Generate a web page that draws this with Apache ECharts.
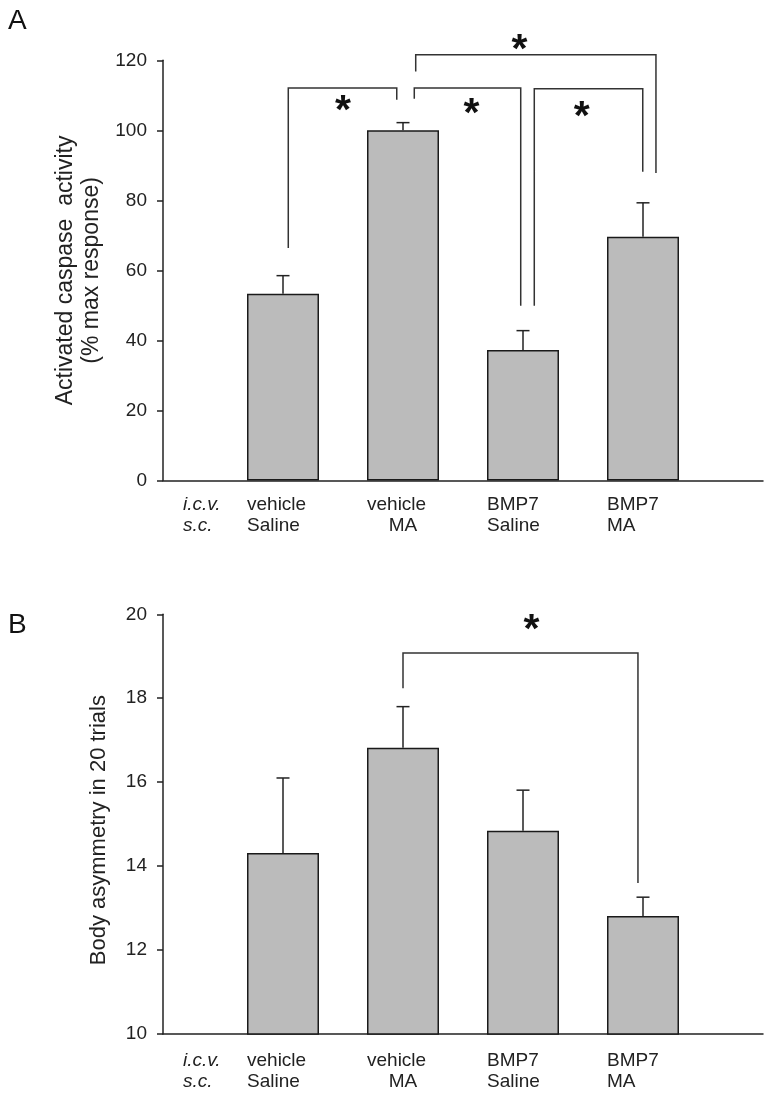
<!DOCTYPE html>
<html><head><meta charset="utf-8">
<script src="https://cdn.jsdelivr.net/npm/echarts@6/dist/echarts.min.js"></script>
<style>html,body{margin:0;padding:0;background:#fff}#c{width:780px;height:1102px}</style>
</head><body><div id="c"></div>
<script>
// ---- data ----
const groupPositions = [1, 2, 3, 4];
const icvLabels = ['vehicle', 'vehicle', 'BMP7', 'BMP7'];
const scLabels = ['Saline', 'MA', 'Saline', 'MA'];
const rowHeaders = ['i.c.v.', 's.c.'];
const panelLetters = ['A', 'B'];

const caspaseMean = [53.3, 100.0, 37.3, 69.6];
const caspaseSem = [5.2, 2.2, 5.5, 9.7];
const asymMean = [14.31, 16.82, 14.84, 12.81];
const asymSem = [1.79, 0.98, 0.97, 0.45];

const yTicksA = [0, 20, 40, 60, 80, 100, 120];
const yTicksB = [10, 12, 14, 16, 18, 20];

const nameA = 'Activated caspase  activity\n(% max response)';
const nameB = 'Body asymmetry in 20 trials';

// significance brackets: [xLeft, xRight, yTop, yLeftEnd, yRightEnd]
const bracketsA = [
  [1.044, 1.948, 112.1, 66.4, 108.7],
  [2.106, 4.108, 121.6, 116.8, 87.8],
  [2.094, 2.981, 112.1, 109.0, 49.9],
  [3.094, 3.998, 111.9, 49.9, 88.2]
];
const starsA = [[1.5, 107.9], [2.97, 125.4], [2.57, 107.0], [3.49, 106.3]];
const bracketsB = [[2.0, 3.958, 19.08, 18.24, 13.60]];
const starsB = [[3.07, 19.82]];

// ---- styling ----
const FONT = "'Liberation Sans', Arial, Helvetica, sans-serif";
const INK = '#222';

function xLabel(v) {
  const i = Math.round(v);
  if (i === 0) return '{sp| }{it|' + rowHeaders[0] + '}\n{sp| }{it|' + rowHeaders[1] + '}';
  if (i >= 1 && i <= 4) {
    const k = i - 1;
    const second = (k === 1 ? '{c|' : '{l|') + scLabels[k] + '}';
    return '{l|' + icvLabels[k] + '}\n' + second;
  }
  return '';
}
const richX = {
  l: { width: 72, align: 'left', fontSize: 19, fontFamily: FONT, color: INK, lineHeight: 21 },
  c: { width: 72, align: 'center', fontSize: 19, fontFamily: FONT, color: INK, lineHeight: 21 },
  sp: { width: 80, align: 'left', fontSize: 19, lineHeight: 21 },
  it: { width: 40, align: 'left', fontStyle: 'italic', fontSize: 19, fontFamily: FONT, color: INK, lineHeight: 21 }
};

function xAxisDef(grid, margin) {
  return {
    type: 'value', gridIndex: grid, min: 0, max: 5, interval: 1,
    axisLine: { show: true, lineStyle: { color: INK, width: 1.5 } },
    axisTick: { show: false }, splitLine: { show: false },
    axisLabel: { show: true, formatter: xLabel, rich: richX, margin: margin, showMinLabel: true, showMaxLabel: true }
  };
}
function yAxisDef(grid, ticks, name, gap, nameSize, namePad) {
  return {
    type: 'value', gridIndex: grid, min: ticks[0], max: ticks[ticks.length - 1],
    interval: ticks[1] - ticks[0],
    name: name, nameLocation: 'middle', nameGap: gap,
    nameTextStyle: { fontSize: nameSize, fontFamily: FONT, color: INK, lineHeight: 26, padding: namePad },
    axisLine: { show: true, lineStyle: { color: INK, width: 1.5 } },
    axisTick: { show: true, inside: false, length: 6, lineStyle: { color: INK, width: 1.5 } },
    splitLine: { show: false },
    axisLabel: { fontSize: 19, fontFamily: FONT, color: INK, margin: 16 }
  };
}

function barSeries(idx, means) {
  return {
    type: 'bar', xAxisIndex: idx, yAxisIndex: idx, barWidth: 72, silent: true,
    data: groupPositions.map((x, i) => [x, means[i]]),
    itemStyle: { color: '#bbbbbb', borderColor: '#1a1a1a', borderWidth: 1.5 }
  };
}
function errSeries(idx, means, sems) {
  return {
    type: 'custom', xAxisIndex: idx, yAxisIndex: idx, clip: false, silent: true, z: 5,
    data: groupPositions.map((x, i) => [x, means[i], means[i] + sems[i]]),
    renderItem: function (params, api) {
      const b = api.coord([api.value(0), api.value(1)]);
      const t = api.coord([api.value(0), api.value(2)]);
      const st = { stroke: INK, lineWidth: 1.5 };
      return { type: 'group', children: [
        { type: 'line', shape: { x1: b[0], y1: b[1], x2: t[0], y2: t[1] }, style: st },
        { type: 'line', shape: { x1: t[0] - 6.5, y1: t[1], x2: t[0] + 6.5, y2: t[1] }, style: st }
      ] };
    }
  };
}
function bracketSeries(idx, brackets) {
  return {
    type: 'custom', xAxisIndex: idx, yAxisIndex: idx, clip: false, silent: true, z: 5,
    data: brackets,
    renderItem: function (params, api) {
      const x1 = api.value(0), x2 = api.value(1), yt = api.value(2), y1 = api.value(3), y2 = api.value(4);
      return { type: 'polyline', shape: { points: [api.coord([x1, y1]), api.coord([x1, yt]), api.coord([x2, yt]), api.coord([x2, y2])] },
        style: { stroke: '#333', lineWidth: 1.5, fill: null } };
    }
  };
}
function starSeries(idx, stars) {
  return {
    type: 'custom', xAxisIndex: idx, yAxisIndex: idx, clip: false, silent: true, z: 6,
    data: stars,
    renderItem: function (params, api) {
      const p = api.coord([api.value(0), api.value(1)]);
      return { type: 'text', x: p[0], y: p[1] + 9,
        style: { text: '*', fontSize: 41, fontWeight: 'bold', fontFamily: FONT, fill: '#111', align: 'center', verticalAlign: 'middle' } };
    }
  };
}

const chart = echarts.init(document.getElementById('c'), null, { renderer: 'canvas' });
chart.setOption({
  animation: false,
  backgroundColor: '#fff',
  textStyle: { fontFamily: FONT },
  grid: [
    { left: 163, top: 60.3, width: 600, height: 420.2 },
    { left: 163, top: 614.3, width: 600, height: 419.7 }
  ],
  xAxis: [xAxisDef(0, 14), xAxisDef(1, 16)],
  yAxis: [yAxisDef(0, yTicksA, nameA, 58, 23, [0, 0, 0, 0]), yAxisDef(1, yTicksB, nameB, 51, 22, [0, 12, 0, 0])],
  graphic: [
    { type: 'text', left: 8, top: 7, style: { text: panelLetters[0], fontSize: 28, fontFamily: FONT, fill: '#111' } },
    { type: 'text', left: 8, top: 611, style: { text: panelLetters[1], fontSize: 28, fontFamily: FONT, fill: '#111' } }
  ],
  series: [
    barSeries(0, caspaseMean), errSeries(0, caspaseMean, caspaseSem), bracketSeries(0, bracketsA), starSeries(0, starsA),
    barSeries(1, asymMean), errSeries(1, asymMean, asymSem), bracketSeries(1, bracketsB), starSeries(1, starsB)
  ]
});
</script></body></html>
